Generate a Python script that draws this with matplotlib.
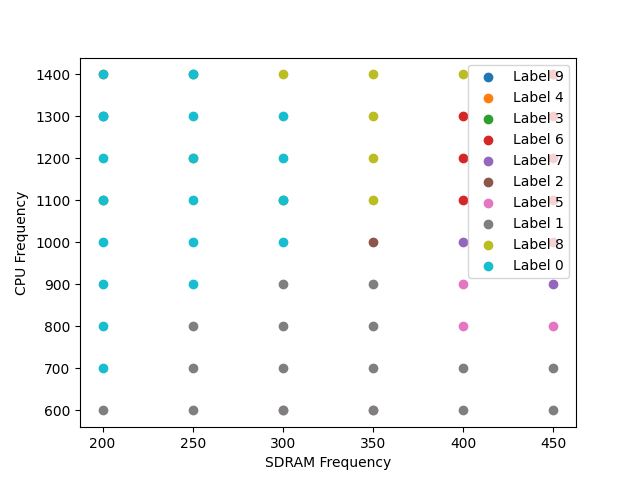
import matplotlib
matplotlib.use("Agg")
import matplotlib.pyplot as plt

# Draw order (legend order)
labels = ["Label 9", "Label 4", "Label 3", "Label 6", "Label 7",
          "Label 2", "Label 5", "Label 1", "Label 8", "Label 0"]
colors = ["tab:blue", "tab:orange", "tab:green", "tab:red", "tab:purple",
          "tab:brown", "tab:pink", "tab:gray", "tab:olive", "tab:cyan"]

# (SDRAM, CPU) points per label
label9_x = [450, 200]
label9_y = [1400, 1300]
label4_x = [200, 250]
label4_y = [1400, 1200]
label3_x = [250, 200, 300]
label3_y = [1400, 1100, 1100]
label6_x = [400, 400, 400, 450, 450, 450, 450, 450]
label6_y = [1300, 1200, 1100, 1400, 1300, 1200, 1100, 1000]
label7_x = [400, 450]
label7_y = [1000, 900]
label2_x = [350]
label2_y = [1000]
label5_x = [400, 400, 450, 300, 350]
label5_y = [900, 800, 800, 600, 600]
label1_x = [200, 250, 250, 250, 300, 300, 300, 300, 350, 350, 350, 350,
            400, 400, 450, 450]
label1_y = [600, 600, 700, 800, 600, 700, 800, 900, 600, 700, 800, 900,
            600, 700, 600, 700]
label8_x = [300, 350, 350, 350, 350, 400]
label8_y = [1400, 1400, 1300, 1200, 1100, 1400]
label0_x = [200, 200, 200, 200, 200, 200, 200, 200,
            250, 250, 250, 250, 250, 250,
            300, 300, 300, 300]
label0_y = [700, 800, 900, 1000, 1100, 1200, 1300, 1400,
            900, 1000, 1100, 1200, 1300, 1400,
            1000, 1100, 1200, 1300]

xs = [label9_x, label4_x, label3_x, label6_x, label7_x,
      label2_x, label5_x, label1_x, label8_x, label0_x]
ys = [label9_y, label4_y, label3_y, label6_y, label7_y,
      label2_y, label5_y, label1_y, label8_y, label0_y]

fig, ax = plt.subplots(figsize=(6.4, 4.8), dpi=100)
for lab, c, x, y in zip(labels, colors, xs, ys):
    ax.scatter(x, y, color=c, label=lab)
ax.set_xlabel("SDRAM Frequency")
ax.set_ylabel("CPU Frequency")
ax.legend(loc="upper right")
fig.savefig("out.png")
